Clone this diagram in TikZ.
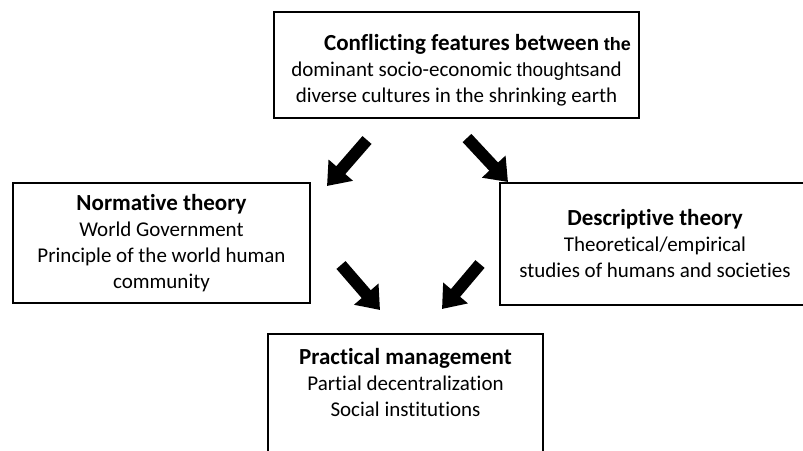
\documentclass[tikz,border=0pt]{standalone}
\usepackage{fontspec}
\setmainfont{Carlito}[RawFeature={-liga}]
\newfontfamily\arialfont{Liberation Sans}
\usetikzlibrary{arrows.meta}
\newcommand{\hd}[1]{{\bfseries\fontsize{23}{26}\selectfont #1}}
\tikzset{box/.style={draw,line width=1.6pt,align=center,inner sep=4pt,
		font=\fontsize{21}{26}\selectfont},
	fat/.style={line width=12pt,-{Triangle[width=31pt,length=21pt]}}}

\begin{document}
\begin{tikzpicture}[x=1pt,y=-1pt]
			\useasboundingbox (0,0) rectangle (803,450);
			\clip (0,0) rectangle (803,450);
			\node[box,minimum width=365pt,minimum height=106pt] (top) at (456.5,65)
				{\rule{0pt}{26pt}\hspace*{42pt}\hd{Conflicting features between} {\arialfont\bfseries\fontsize{18}{26}\selectfont the}\\
				dominant socio-economic {\arialfont\fontsize{19}{26}\selectfont thoughts}and\\
				diverse cultures in the shrinking earth};
			\node[box,minimum width=297pt,minimum height=120pt] (norm) at (161.5,243)
				{\hd{Normative theory}\\ World Government\\ Principle of the world human\\ community};
			\node[box,minimum width=310pt,minimum height=122pt] (desc) at (655,244)
				{\hd{Descriptive theory}\\ Theoretical/empirical\\ studies of humans and societies};
			\node[box,minimum width=275pt,minimum height=122pt] (prac) at (405.5,395)
				{\hd{Practical management}\\ Partial decentralization\\ Social institutions\\ \mbox{}};
			% arrow ends
			\coordinate (t1) at (367,140);
			\coordinate (h1) at (327,186);
			\coordinate (t2) at (467,138);
			\coordinate (h2) at (508,182);
			\coordinate (t3) at (341,265);
			\coordinate (h3) at (380,310);
			\coordinate (t4) at (480,264);
			\coordinate (h4) at (442,309);
			\draw[fat] (t1) -- (h1);
			\draw[fat] (t2) -- (h2);
			\draw[fat] (t3) -- (h3);
			\draw[fat] (t4) -- (h4);
		\end{tikzpicture}
\end{document}
